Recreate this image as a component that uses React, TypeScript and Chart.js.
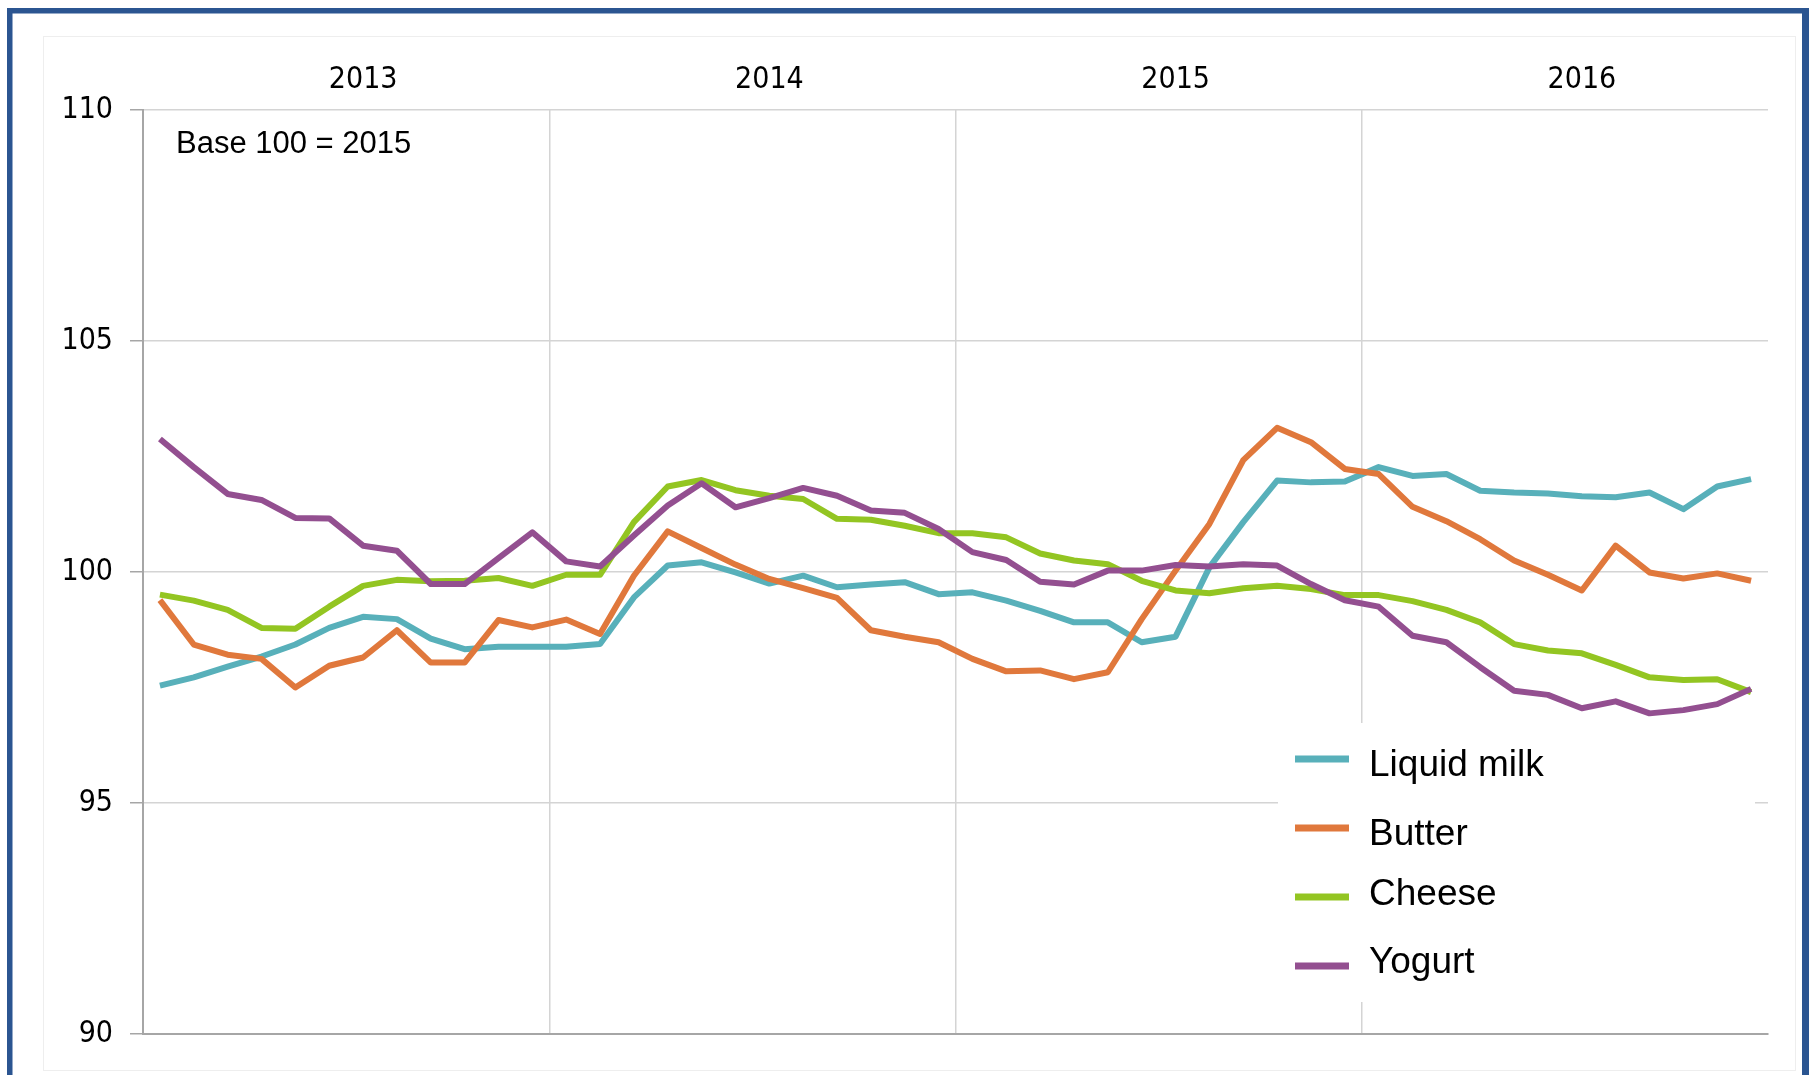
import React, { useEffect, useRef } from "react";
import { Chart, registerables } from "chart.js";

Chart.register(...registerables);

const years = ["2013", "2014", "2015", "2016"];
const monthNames = ["Jan", "Feb", "Mar", "Apr", "May", "Jun", "Jul", "Aug", "Sep", "Oct", "Nov", "Dec"];
const months: string[] = [];
years.forEach((y) => monthNames.forEach((m) => months.push(m + " " + y)));

const yTicks = [90, 95, 100, 105, 110];

const liquidMilk = [
  97.54, 97.72, 97.95, 98.17, 98.43, 98.79, 99.03, 98.98, 98.56, 98.33, 98.38, 98.38,
  98.38, 98.44, 99.45, 100.14, 100.21, 99.99, 99.75, 99.92, 99.67, 99.73, 99.78, 99.52,
  99.56, 99.38, 99.16, 98.91, 98.91, 98.48, 98.6, 100.1, 101.08, 101.98, 101.94, 101.96,
  102.27, 102.08, 102.12, 101.76, 101.72, 101.7, 101.64, 101.62, 101.72, 101.36, 101.85, 102.01,
];
const butter = [
  99.39, 98.43, 98.21, 98.12, 97.5, 97.97, 98.15, 98.74, 98.04, 98.04, 98.96, 98.8,
  98.97, 98.66, 99.92, 100.88, 100.52, 100.16, 99.85, 99.65, 99.44, 98.74, 98.6, 98.48,
  98.12, 97.85, 97.87, 97.68, 97.83, 98.98, 100.03, 101.04, 102.42, 103.12, 102.81, 102.23,
  102.12, 101.41, 101.1, 100.71, 100.25, 99.94, 99.6, 100.57, 99.99, 99.86, 99.97, 99.81,
];
const cheese = [
  99.51, 99.38, 99.18, 98.79, 98.77, 99.25, 99.7, 99.83, 99.8, 99.81, 99.87, 99.7,
  99.94, 99.94, 101.08, 101.85, 101.99, 101.77, 101.65, 101.58, 101.15, 101.13, 101.0, 100.84,
  100.84, 100.75, 100.4, 100.25, 100.17, 99.81, 99.6, 99.54, 99.65, 99.7, 99.63, 99.5,
  99.5, 99.37, 99.18, 98.91, 98.44, 98.3, 98.24, 97.99, 97.72, 97.66, 97.68, 97.4,
];
const yogurt = [
  102.88, 102.27, 101.69, 101.56, 101.17, 101.16, 100.57, 100.46, 99.74, 99.74, 100.3, 100.86,
  100.23, 100.12, 100.79, 101.44, 101.92, 101.4, 101.6, 101.82, 101.65, 101.33, 101.28, 100.93,
  100.43, 100.26, 99.79, 99.73, 100.03, 100.03, 100.15, 100.12, 100.17, 100.14, 99.74, 99.39,
  99.25, 98.62, 98.48, 97.94, 97.43, 97.34, 97.05, 97.2, 96.94, 97.01, 97.14, 97.47,
];

const seriesNames = ["Liquid milk", "Butter", "Cheese", "Yogurt"];
const seriesColors = ["#58B0BA", "#E0783C", "#93C522", "#934F90"];
const baseNote = "Base 100 = 2015";

const axisFont = { family: "'DejaVu Sans Condensed', 'Liberation Sans Narrow', 'Liberation Sans', sans-serif", size: 30 };

const decorPlugin = {
  id: "decor",
  beforeDraw(chart: any) {
    const ctx = chart.ctx;
    ctx.save();
    ctx.fillStyle = "#ffffff";
    ctx.fillRect(0, 0, chart.width, chart.height);
    ctx.strokeStyle = "#eeeeee";
    ctx.lineWidth = 1;
    ctx.strokeRect(43.5, 36.5, 1752, 1034);
    ctx.fillStyle = "#2B5591";
    ctx.fillRect(7, 8, chart.width - 7, 5.5);
    ctx.fillRect(7, 8, 5.5, chart.height);
    ctx.fillRect(1802, 8, 7, chart.height);
    ctx.restore();
  },
  afterDatasetsDraw(chart: any) {
    const ctx = chart.ctx;
    ctx.save();
    ctx.fillStyle = "#000";
    ctx.font = "31px 'Liberation Sans', Arial, sans-serif";
    ctx.textBaseline = "alphabetic";
    ctx.textAlign = "left";
    ctx.fillText(baseNote, 176, 153);

    // legend
    ctx.fillStyle = "#ffffff";
    ctx.fillRect(1278, 723, 477, 279);
    const swatchY = [759, 828, 897, 966];
    const textY = [776, 845, 905, 973];
    chart.data.datasets.forEach((ds: any, i: number) => {
      ctx.strokeStyle = ds.borderColor;
      ctx.lineWidth = 7;
      ctx.lineCap = "butt";
      ctx.beginPath();
      ctx.moveTo(1295, swatchY[i]);
      ctx.lineTo(1349, swatchY[i]);
      ctx.stroke();
      ctx.fillStyle = "#000";
      ctx.font = "37px 'Liberation Sans', Arial, sans-serif";
      ctx.fillText(ds.label, 1369, textY[i]);
    });
    ctx.restore();
  },
};

export default function App() {
  const ref = useRef<HTMLCanvasElement | null>(null);
  useEffect(() => {
    if (!ref.current) return;
    const series = [liquidMilk, butter, cheese, yogurt];
    const chart = new Chart(ref.current, {
      type: "line",
      data: {
        labels: months,
        datasets: series.map((d, i) => ({
          label: seriesNames[i],
          data: d,
          borderColor: seriesColors[i],
          backgroundColor: seriesColors[i],
          borderWidth: 6,
          pointRadius: 0,
          tension: 0,
          borderJoinStyle: "round" as const,
          order: 3 - i,
          xAxisID: "x",
          yAxisID: "y",
        })),
      },
      options: {
        animation: false,
        responsive: false,
        devicePixelRatio: 1,
        layout: { padding: { top: 0, left: 0, right: 41, bottom: 0 } },
        plugins: { legend: { display: false }, tooltip: { enabled: false } },
        scales: {
          x: {
            type: "category",
            offset: true,
            grid: {
              offset: true,
              drawTicks: false,
              lineWidth: 1.5,
              color: (c: any) => (c.index > 0 && c.index % 12 === 0 ? "#d4d4d4" : "rgba(0,0,0,0)"),
            },
            ticks: { display: false },
            border: { display: true, color: "#a6a6a6", width: 2 },
            afterFit: (s: any) => {
              s.height = 41;
            },
          },
          xTop: {
            type: "category",
            axis: "x",
            position: "top",
            labels: years,
            offset: true,
            grid: { display: false, drawTicks: false },
            border: { display: false },
            ticks: { font: axisFont, color: "#000", padding: 12, labelOffset: 17, maxRotation: 0 },
            afterFit: (s: any) => {
              s.height = 110;
            },
          },
          y: {
            type: "linear",
            min: yTicks[0],
            max: yTicks[yTicks.length - 1],
            afterBuildTicks: (s: any) => {
              s.ticks = yTicks.map((v) => ({ value: v }));
            },
            ticks: { font: axisFont, color: "#000", padding: 17 },
            grid: { color: "#d4d4d4", tickColor: "#a6a6a6", tickLength: 13, lineWidth: 1.5 },
            border: { color: "#a6a6a6", width: 2 },
            afterFit: (s: any) => {
              s.width = 143;
            },
          },
        },
      },
      plugins: [decorPlugin],
    } as any);
    return () => chart.destroy();
  }, []);
  return (
    <div style={{ position: "fixed", left: 0, top: 0, width: 1809, height: 1075, background: "#fff" }}>
      <canvas ref={ref} width={1809} height={1075} style={{ width: 1809, height: 1075, display: "block" }} />
    </div>
  );
}
